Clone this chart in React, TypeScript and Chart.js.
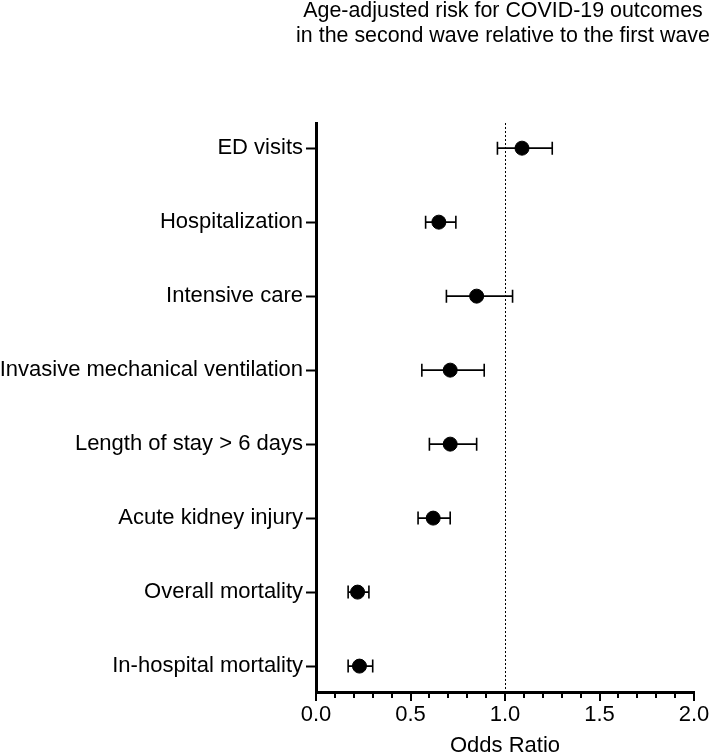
import React, { useEffect, useRef } from 'react';
import { Chart, registerables } from 'chart.js';

Chart.register(...registerables);

const categories = [
  'ED visits',
  'Hospitalization',
  'Intensive care',
  'Invasive mechanical ventilation',
  'Length of stay > 6 days',
  'Acute kidney injury',
  'Overall mortality',
  'In-hospital mortality',
];
const oddsRatio = [1.09, 0.65, 0.85, 0.71, 0.71, 0.62, 0.22, 0.23];
const ciLower = [0.96, 0.58, 0.69, 0.56, 0.6, 0.54, 0.17, 0.17];
const ciUpper = [1.25, 0.74, 1.04, 0.89, 0.85, 0.71, 0.28, 0.3];
const xTickValues = [0, 0.5, 1.0, 1.5, 2.0];
const titleLines = [
  'Age-adjusted risk for COVID-19 outcomes',
  'in the second wave relative to the first wave',
];
const xAxisTitle = 'Odds Ratio';
const referenceValue = 1;

const FONT_FAMILY = '"Liberation Sans", Arial, Helvetica, sans-serif';

const forestPlugin = {
  id: 'forestExtras',
  beforeDatasetsDraw(chart: any) {
    const { ctx, chartArea, scales } = chart;
    const x = scales.x;
    const y = scales.y;
    ctx.save();
    // reference line at OR = 1
    ctx.strokeStyle = '#000';
    ctx.lineWidth = 1;
    ctx.setLineDash([2, 2]);
    const rx = Math.round(x.getPixelForValue(referenceValue)) + 0.5;
    ctx.beginPath();
    ctx.moveTo(rx, chartArea.top);
    ctx.lineTo(rx, chartArea.bottom);
    ctx.stroke();
    ctx.setLineDash([]);
    // error bars
    ctx.lineWidth = 1.6;
    categories.forEach((_, i) => {
      const py = y.getPixelForValue(i);
      const x1 = x.getPixelForValue(ciLower[i]);
      const x2 = x.getPixelForValue(ciUpper[i]);
      ctx.beginPath();
      ctx.moveTo(x1, py);
      ctx.lineTo(x2, py);
      ctx.moveTo(x1, py - 6.5);
      ctx.lineTo(x1, py + 6.5);
      ctx.moveTo(x2, py - 6.5);
      ctx.lineTo(x2, py + 6.5);
      ctx.stroke();
    });
    ctx.restore();
  },
  afterDraw(chart: any) {
    const { ctx, chartArea, scales } = chart;
    const x = scales.x;
    ctx.save();
    // x-axis major and minor tick marks
    ctx.strokeStyle = '#000';
    ctx.lineWidth = 2;
    for (let k = 0; k <= 20; k++) {
      const v = x.min + ((x.max - x.min) * k) / 20;
      const px = Math.round(x.getPixelForValue(v));
      const major = k % 5 === 0;
      ctx.beginPath();
      ctx.moveTo(px, chartArea.bottom);
      ctx.lineTo(px, chartArea.bottom + (major ? 9 : 6));
      ctx.stroke();
    }
    // title and axis title, centred over plot area
    ctx.fillStyle = '#000';
    ctx.textAlign = 'center';
    ctx.textBaseline = 'alphabetic';
    const cx = (chartArea.left + chartArea.right) / 2;
    ctx.font = `21.4px ${FONT_FAMILY}`;
    titleLines.forEach((t, i) => ctx.fillText(t, cx - 2, 17 + 24.5 * i));
    ctx.font = `22px ${FONT_FAMILY}`;
    ctx.fillText(xAxisTitle, cx, chart.height);
    ctx.restore();
  },
};

export default function App() {
  const canvasRef = useRef<HTMLCanvasElement | null>(null);

  useEffect(() => {
    const canvas = canvasRef.current;
    if (!canvas) return;
    const font = { family: FONT_FAMILY, size: 22 };
    const chart = new Chart(canvas, {
      type: 'scatter',
      data: {
        datasets: [
          {
            label: 'Odds ratio',
            data: categories.map((_, i) => ({ x: oddsRatio[i], y: i })),
            backgroundColor: '#000',
            borderColor: '#000',
            pointRadius: 7,
            pointHoverRadius: 7,
          },
        ],
      },
      options: {
        responsive: false,
        animation: false,
        events: [],
        layout: { padding: { top: 123, right: 20, left: 0, bottom: 0 } },
        plugins: {
          legend: { display: false },
          title: { display: false },
          tooltip: { enabled: false },
        },
        scales: {
          x: {
            type: 'linear',
            min: 0,
            max: 2,
            afterBuildTicks: (s: any) => {
              s.ticks = xTickValues.map((v) => ({ value: v }));
            },
            afterFit: (s: any) => {
              s.height = 60;
              s.paddingLeft = 0;
              s.paddingRight = 0;
            },
            ticks: {
              callback: (v: any) => Number(v).toFixed(1),
              font,
              color: '#000',
              padding: 10,
              maxRotation: 0,
              autoSkip: false,
            },
            grid: { display: false, drawTicks: false },
            border: { display: true, color: '#000', width: 3 },
          },
          y: {
            type: 'linear',
            reverse: true,
            min: -0.34,
            max: 7.35,
            afterBuildTicks: (s: any) => {
              s.ticks = categories.map((_, i) => ({ value: i }));
            },
            afterFit: (s: any) => {
              s.width = 316;
              s.paddingTop = 0;
              s.paddingBottom = 0;
            },
            ticks: {
              callback: (v: any) => categories[Math.round(Number(v))] ?? '',
              font,
              color: '#000',
              padding: 3,
              autoSkip: false,
            },
            grid: {
              display: true,
              drawOnChartArea: false,
              drawTicks: true,
              tickLength: 10,
              tickWidth: 2,
              tickColor: '#000',
              color: '#000',
            },
            border: { display: true, color: '#000', width: 3 },
          },
        },
      },
      plugins: [forestPlugin],
    });
    return () => chart.destroy();
  }, []);

  return (
    <div style={{ position: 'fixed', left: 0, top: 0, width: 714, height: 752, background: '#fff' }}>
      <canvas ref={canvasRef} width={714} height={752} />
    </div>
  );
}
